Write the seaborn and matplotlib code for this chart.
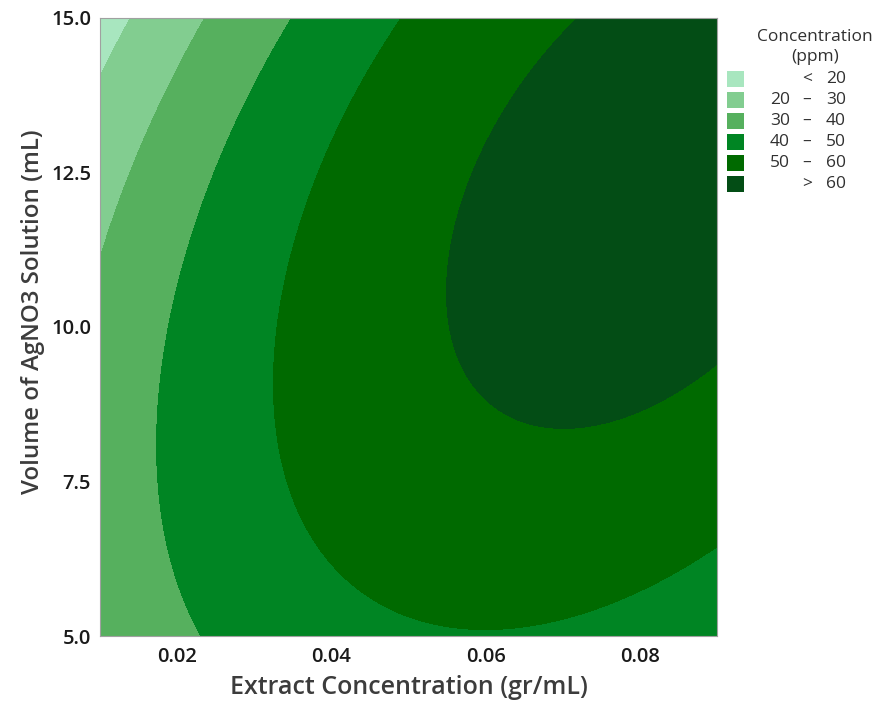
import numpy as np
import pandas as pd
import matplotlib
matplotlib.use("Agg")
import matplotlib.pyplot as plt
from matplotlib.patches import Rectangle
import seaborn as sns

sns.set_theme(style="white")
plt.rcParams["font.family"] = ["Open Sans", "DejaVu Sans"]

# contour-trace points (extract, volume, level)
ext_pts = [0.0130, 0.0100, 0.0137,
           0.0228, 0.0100, 0.0137,
           0.0346, 0.0237, 0.0183, 0.0171, 0.0233,
           0.0489, 0.0463, 0.0353, 0.0326, 0.0353, 0.0463, 0.0606, 0.0767, 0.0900,
           0.0732, 0.0597, 0.0565, 0.0554, 0.0606, 0.0708, 0.0831, 0.0900]
vol_pts = [15.00, 14.31, 13.80,
           15.00, 11.43, 12.50,
           15.00, 12.50, 10.00, 8.24, 5.00,
           15.00, 14.49, 11.42, 9.26, 7.20, 5.57, 5.12, 5.53, 6.40,
           15.00, 13.08, 11.80, 10.65, 8.92, 8.41, 8.80, 9.40]
level_pts = [20, 20, 20,
             30, 30, 30,
             40, 40, 40, 40, 40,
             50, 50, 50, 50, 50, 50, 50, 50, 50,
             60, 60, 60, 60, 60, 60, 60, 60]

levels = [20, 30, 40, 50, 60]
band_labels = [("", "<", "20"), ("20", "–", "30"), ("30", "–", "40"),
               ("40", "–", "50"), ("50", "–", "60"), ("", ">", "60")]
band_colors = ["#A8E6BF", "#82CD90", "#56B05E", "#008523", "#006A00", "#034D15"]

pts = pd.DataFrame({"ext": ext_pts, "vol": vol_pts, "conc": level_pts})

# full quadratic response surface in coded units
def design(e, v):
    a = (np.asarray(e) - 0.05) / 0.04
    b = (np.asarray(v) - 10.0) / 5.0
    return np.column_stack([np.ones_like(a), a, b, a * a, b * b, a * b])

coef, *_ = np.linalg.lstsq(design(pts["ext"], pts["vol"]), pts["conc"], rcond=None)

gx = np.linspace(0.01, 0.09, 300)
gy = np.linspace(5.0, 15.0, 300)
GX, GY = np.meshgrid(gx, gy)
Z = (design(GX.ravel(), GY.ravel()) @ coef).reshape(GX.shape)

fig = plt.figure(figsize=(8.81, 7.09), dpi=100)
ax = fig.add_axes([100 / 881, 73 / 709, 617 / 881, 618 / 709])
ax.contourf(GX, GY, Z, levels=[-1e6] + levels + [1e6], colors=band_colors)

ax.set_xlim(0.01, 0.09)
ax.set_ylim(5.0, 15.0)
ax.set_xticks([0.02, 0.04, 0.06, 0.08])
ax.set_xticklabels(["0.02", "0.04", "0.06", "0.08"])
ax.set_yticks([5.0, 7.5, 10.0, 12.5, 15.0])
ax.set_yticklabels(["5.0", "7.5", "10.0", "12.5", "15.0"])
ax.tick_params(axis="both", direction="out", length=5, width=0.8, color="#9A9A9A",
               labelsize=14.5, labelcolor="#1A1A1A")
ax.tick_params(axis="y", pad=1.5)
ax.tick_params(axis="x", pad=3)
for lab in ax.get_xticklabels() + ax.get_yticklabels():
    lab.set_fontweight("semibold")
for s in ax.spines.values():
    s.set_color("#A0A0A0")
    s.set_linewidth(0.8)
ax.set_xlabel("Extract Concentration (gr/mL)", fontsize=18, color="#3C3C3C",
              labelpad=6, fontweight="semibold")
ax.set_ylabel("Volume of AgNO3 Solution (mL)", fontsize=17.3, color="#3C3C3C",
              fontweight="semibold")
ax.yaxis.set_label_coords(-0.089, 0.524)

# legend
W, H = 881, 709
kw = dict(va="center", fontsize=12.5, color="#303030")
fig.text(815 / W, 1 - 37 / H, "Concentration", ha="center", **kw)
fig.text(815 / W, 1 - 57 / H, "(ppm)", ha="center", **kw)
for i, ((lo, mid, hi), col) in enumerate(zip(band_labels, band_colors)):
    yc = 79 + 21 * i
    fig.patches.append(Rectangle((727 / W, 1 - (yc + 8) / H), 17 / W, 16 / H,
                                 transform=fig.transFigure, facecolor=col, edgecolor="none"))
    if lo:
        fig.text(790 / W, 1 - yc / H, lo, ha="right", **kw)
    fig.text(807 / W, 1 - yc / H, mid, ha="center", **kw)
    fig.text(846 / W, 1 - yc / H, hi, ha="right", **kw)

fig.savefig("out.png", dpi=100, facecolor="white")
